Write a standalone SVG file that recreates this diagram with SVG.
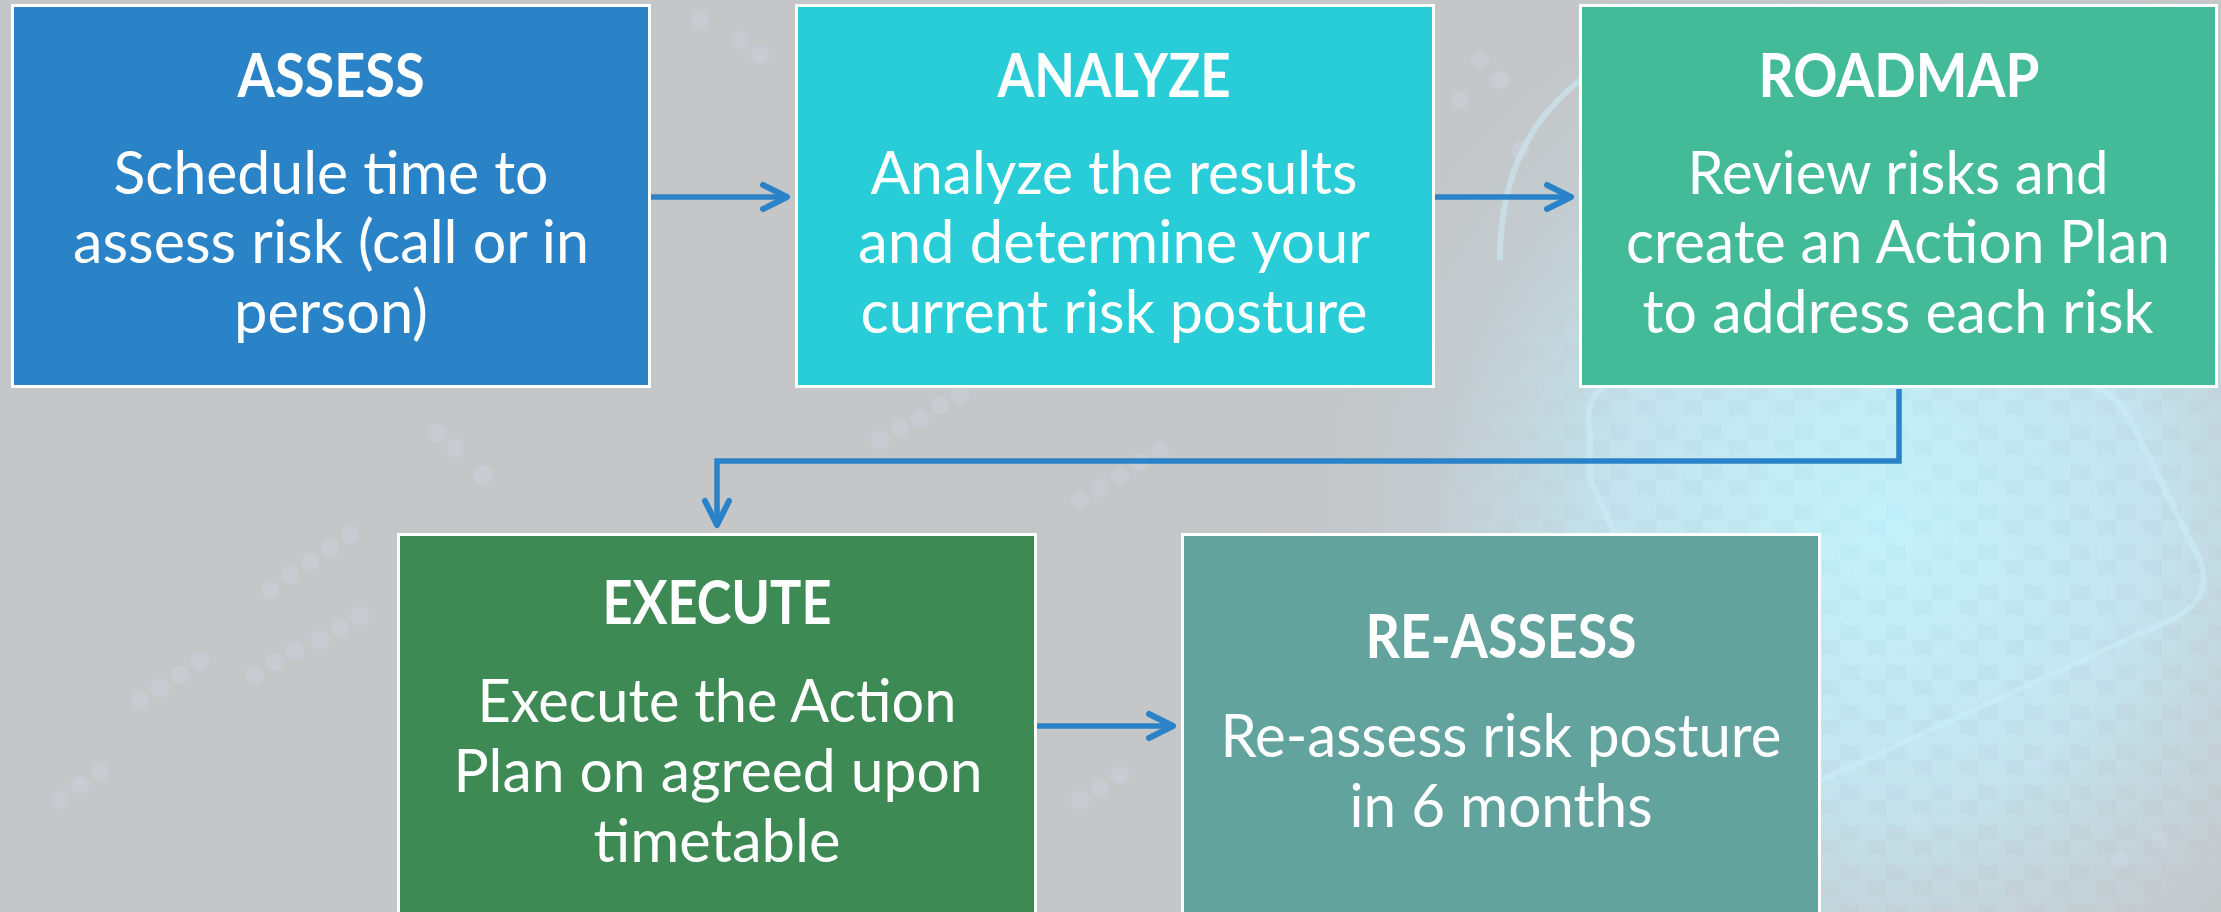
<svg xmlns="http://www.w3.org/2000/svg" width="2221" height="912" viewBox="0 0 2221 912">
<defs>
<style>
.box{stroke:#FFFFFF;stroke-width:3}
.title{font-family:Lato,"Open Sans","Liberation Sans",sans-serif;font-weight:700;font-size:61px;fill:#FFFFFF;text-anchor:middle}
.body{font-family:Lato,"Open Sans","Liberation Sans",sans-serif;font-weight:400;font-size:60px;fill:#FFFFFF;text-anchor:middle}
.conn{fill:none;stroke:#2A83C8;stroke-width:5.5}
.dot{fill:#D6E3F6;opacity:0.22}
</style>
<marker id="arrow" viewBox="0 0 32 32" refX="28" refY="16" markerWidth="32" markerHeight="32" markerUnits="userSpaceOnUse" orient="auto">
<path d="M4,4 L28,16 L4,28" fill="none" stroke="#2A83C8" stroke-width="6" stroke-linecap="round" stroke-linejoin="round"/>
</marker>
<radialGradient id="glow" cx="1880" cy="520" r="620" gradientUnits="userSpaceOnUse">
<stop offset="0" stop-color="#BDF1FA" stop-opacity="0.95"/>
<stop offset="0.45" stop-color="#BFE9F7" stop-opacity="0.7"/>
<stop offset="1" stop-color="#C5C7C9" stop-opacity="0"/>
</radialGradient>
<pattern id="dots" x="0" y="0" width="46" height="40" patternUnits="userSpaceOnUse">
<circle cx="12" cy="10" r="16" fill="#D2F8FE" opacity="0.4"/>
<circle cx="35" cy="30" r="16" fill="#D2F8FE" opacity="0.4"/>
</pattern>
<radialGradient id="dotfade" cx="1900" cy="560" r="480" gradientUnits="userSpaceOnUse">
<stop offset="0" stop-color="#FFFFFF" stop-opacity="0.85"/>
<stop offset="0.6" stop-color="#FFFFFF" stop-opacity="0.45"/>
<stop offset="1" stop-color="#FFFFFF" stop-opacity="0"/>
</radialGradient>
<mask id="dotmask">
<rect x="1300" y="0" width="921" height="912" fill="url(#dotfade)"/>
</mask>
</defs>

<g id="background">
<rect x="0" y="0" width="2221" height="912" fill="#C4C6C8"/>
<rect x="1200" y="0" width="1021" height="912" fill="url(#glow)"/>
<rect x="1300" y="0" width="921" height="912" fill="url(#dots)" mask="url(#dotmask)"/>
<g fill="none" stroke="#CBEFFB" stroke-width="6" opacity="0.5">
<path d="M1500,260 C1500,110 1600,30 1760,30 C1920,30 2010,110 2010,240"/>
<path d="M1590,430 Q1580,380 1640,380 L2060,380 Q2110,380 2130,420 L2200,560 Q2215,600 2170,620 L1800,790 Q1760,805 1730,780 L1590,480 Z"/>
</g>
<g class="dot">
<circle cx="270" cy="590" r="9"/><circle cx="290" cy="575" r="9"/><circle cx="310" cy="562" r="9"/><circle cx="330" cy="548" r="9"/><circle cx="350" cy="535" r="9"/>
<circle cx="140" cy="700" r="9"/><circle cx="160" cy="688" r="9"/><circle cx="180" cy="675" r="9"/><circle cx="200" cy="662" r="9"/>
<circle cx="255" cy="675" r="9"/><circle cx="275" cy="662" r="9"/><circle cx="295" cy="650" r="9"/><circle cx="320" cy="640" r="9"/><circle cx="340" cy="628" r="9"/><circle cx="360" cy="616" r="9"/>
<circle cx="483" cy="475" r="10"/><circle cx="437" cy="433" r="9"/><circle cx="455" cy="448" r="9"/>
<circle cx="880" cy="440" r="9"/><circle cx="900" cy="428" r="9"/><circle cx="920" cy="418" r="9"/><circle cx="940" cy="405" r="9"/><circle cx="960" cy="395" r="9"/>
<circle cx="1080" cy="500" r="9"/><circle cx="1100" cy="488" r="9"/><circle cx="1120" cy="476" r="9"/><circle cx="1140" cy="462" r="9"/><circle cx="1160" cy="450" r="9"/>
<circle cx="740" cy="40" r="9"/><circle cx="760" cy="55" r="9"/><circle cx="700" cy="20" r="9"/>
<circle cx="1480" cy="60" r="9"/><circle cx="1500" cy="80" r="9"/><circle cx="1460" cy="100" r="9"/><circle cx="1520" cy="150" r="9"/>
<circle cx="60" cy="800" r="9"/><circle cx="80" cy="785" r="9"/><circle cx="100" cy="772" r="9"/>
<circle cx="1080" cy="800" r="9"/><circle cx="1100" cy="788" r="9"/><circle cx="1120" cy="775" r="9"/>
<circle cx="1920" cy="820" r="9"/><circle cx="1960" cy="800" r="9"/><circle cx="2000" cy="780" r="9"/><circle cx="2040" cy="760" r="9"/><circle cx="2120" cy="860" r="9"/><circle cx="2160" cy="840" r="9"/>
</g>
</g>

<g id="connectors">
<path class="conn" d="M651,197 L787,197" marker-end="url(#arrow)"/>
<path class="conn" d="M1435,197 L1571,197" marker-end="url(#arrow)"/>
<path class="conn" d="M1899,389 L1899,461 L717,461 L717,525" marker-end="url(#arrow)"/>
<path class="conn" d="M1037,726 L1173,726" marker-end="url(#arrow)"/>
</g>

<g id="node-assess">
<rect class="box" x="12.5" y="5.5" width="637" height="381" fill="#2983C6"/>
<text class="title" x="331" y="97" textLength="187" lengthAdjust="spacingAndGlyphs">ASSESS</text>
<text class="body" x="331" y="194" textLength="435" lengthAdjust="spacingAndGlyphs">Schedule time to</text>
<text class="body" x="331" y="263" textLength="516" lengthAdjust="spacingAndGlyphs">assess risk (call or in</text>
<text class="body" x="331" y="333" textLength="194" lengthAdjust="spacingAndGlyphs">person)</text>
</g>

<g id="node-analyze">
<rect class="box" x="796.5" y="5.5" width="637" height="381" fill="#28CDD8"/>
<text class="title" x="1114" y="97" textLength="233" lengthAdjust="spacingAndGlyphs">ANALYZE</text>
<text class="body" x="1114" y="194" textLength="487" lengthAdjust="spacingAndGlyphs">Analyze the results</text>
<text class="body" x="1114" y="263" textLength="512" lengthAdjust="spacingAndGlyphs">and determine your</text>
<text class="body" x="1114" y="333" textLength="507" lengthAdjust="spacingAndGlyphs">current risk posture</text>
</g>

<g id="node-roadmap">
<rect class="box" x="1580.5" y="5.5" width="636" height="381" fill="#44BB98"/>
<text class="title" x="1899" y="97" textLength="281" lengthAdjust="spacingAndGlyphs">ROADMAP</text>
<text class="body" x="1898" y="194" textLength="421" lengthAdjust="spacingAndGlyphs">Review risks and</text>
<text class="body" x="1898" y="263" textLength="544" lengthAdjust="spacingAndGlyphs">create an Action Plan</text>
<text class="body" x="1898" y="333" textLength="511" lengthAdjust="spacingAndGlyphs">to address each risk</text>
</g>

<g id="node-execute">
<rect class="box" x="398.5" y="534.5" width="637" height="400" fill="#3E8A55"/>
<text class="title" x="717" y="624" textLength="229" lengthAdjust="spacingAndGlyphs">EXECUTE</text>
<text class="body" x="717" y="722" textLength="479" lengthAdjust="spacingAndGlyphs">Execute the Action</text>
<text class="body" x="718" y="792" textLength="529" lengthAdjust="spacingAndGlyphs">Plan on agreed upon</text>
<text class="body" x="717" y="862" textLength="247" lengthAdjust="spacingAndGlyphs">timetable</text>
</g>

<g id="node-reassess">
<rect class="box" x="1182.5" y="534.5" width="637" height="400" fill="#63A39E"/>
<text class="title" x="1501" y="658" textLength="271" lengthAdjust="spacingAndGlyphs">RE-ASSESS</text>
<text class="body" x="1501" y="757" textLength="561" lengthAdjust="spacingAndGlyphs">Re-assess risk posture</text>
<text class="body" x="1501" y="827" textLength="303" lengthAdjust="spacingAndGlyphs">in 6 months</text>
</g>
</svg>
